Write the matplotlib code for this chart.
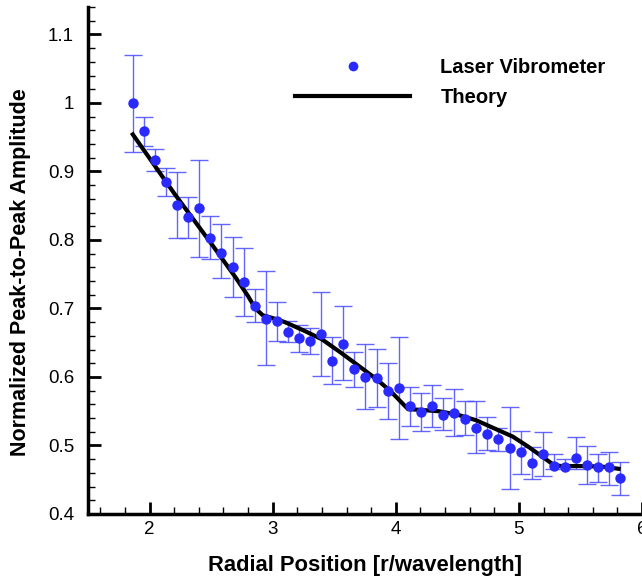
import matplotlib
matplotlib.use("Agg")
import matplotlib.pyplot as plt
from matplotlib.ticker import MultipleLocator, FuncFormatter
from matplotlib.lines import Line2D

plt.rcParams['font.family'] = ['Liberation Sans', 'DejaVu Sans']

# Measured data (laser vibrometer)
x_meas = [1.864, 1.954, 2.044, 2.134, 2.224, 2.314, 2.404, 2.494, 2.584, 2.674,
          2.764, 2.854, 2.944, 3.034, 3.124, 3.214, 3.304, 3.394, 3.484, 3.574,
          3.664, 3.754, 3.844, 3.934, 4.024, 4.114, 4.204, 4.294, 4.384, 4.474,
          4.564, 4.654, 4.744, 4.834, 4.924, 5.014, 5.104, 5.194, 5.284, 5.374,
          5.464, 5.554, 5.644, 5.734, 5.824]
y_meas = [1.000, 0.959, 0.917, 0.884, 0.851, 0.833, 0.846, 0.803, 0.781, 0.760,
          0.738, 0.704, 0.685, 0.682, 0.666, 0.657, 0.652, 0.663, 0.623, 0.648,
          0.611, 0.600, 0.599, 0.580, 0.584, 0.557, 0.549, 0.558, 0.545, 0.548,
          0.539, 0.525, 0.517, 0.510, 0.496, 0.490, 0.474, 0.487, 0.470, 0.469,
          0.482, 0.471, 0.469, 0.468, 0.452]
y_upper = [1.070, 0.979, 0.933, 0.905, 0.899, 0.862, 0.917, 0.835, 0.824, 0.805,
           0.788, 0.728, 0.755, 0.709, 0.681, 0.676, 0.672, 0.724, 0.658, 0.703,
           0.636, 0.648, 0.641, 0.620, 0.659, 0.585, 0.576, 0.588, 0.569, 0.582,
           0.565, 0.565, 0.542, 0.526, 0.556, 0.521, 0.498, 0.519, 0.488, 0.481,
           0.512, 0.499, 0.488, 0.491, 0.476]
y_lower = [0.929, 0.937, 0.900, 0.864, 0.803, 0.803, 0.775, 0.772, 0.745, 0.716,
           0.689, 0.680, 0.617, 0.653, 0.651, 0.637, 0.633, 0.602, 0.590, 0.595,
           0.585, 0.553, 0.556, 0.538, 0.509, 0.528, 0.521, 0.527, 0.522, 0.514,
           0.515, 0.489, 0.493, 0.492, 0.436, 0.459, 0.451, 0.455, 0.465, 0.468,
           0.465, 0.444, 0.446, 0.443, 0.428]

# Theory curve
x_theory = [1.864, 2.2, 2.5, 2.7, 2.8, 2.86, 2.92, 3.0, 3.1, 3.25, 3.4, 3.55,
            3.7, 3.85, 3.97, 4.1, 4.2, 4.35, 4.5, 4.65, 4.8, 4.95, 5.07, 5.18,
            5.28, 5.34, 5.55, 5.68, 5.81]
y_theory = [0.954, 0.868, 0.795, 0.745, 0.718, 0.700, 0.690, 0.686, 0.680, 0.668,
            0.655, 0.636, 0.616, 0.596, 0.577, 0.553, 0.552, 0.550, 0.545, 0.537,
            0.525, 0.513, 0.499, 0.485, 0.472, 0.470, 0.470, 0.469, 0.466]

x_ticks = [2, 3, 4, 5, 6]
y_ticks = [0.4, 0.5, 0.6, 0.7, 0.8, 0.9, 1.0, 1.1]

fig = plt.figure(figsize=(6.42, 5.79), dpi=100)
ax = fig.add_axes([88/642, 1 - 514/579, 1 - 88/642, (514 - 7)/579])

yerr = [[m - l for m, l in zip(y_meas, y_lower)], [u - m for u, m in zip(y_upper, y_meas)]]
ax.errorbar(x_meas, y_meas, yerr=yerr, fmt='none', ecolor='#4a4aff', elinewidth=1.0,
            capsize=6.5, capthick=1.0, alpha=0.85, zorder=2)
ax.plot(x_meas, y_meas, 'o', color='#2a2aff', markersize=7.5, markeredgewidth=0, zorder=4)
ax.plot(x_theory, y_theory, '-', color='black', linewidth=3, zorder=3)

ax.set_xlim(1.5, 6.0)
ax.set_ylim(0.4, 1.14)
ax.set_xticks(x_ticks)
ax.set_yticks(y_ticks)
ax.xaxis.set_minor_locator(MultipleLocator(0.2))
ax.yaxis.set_minor_locator(MultipleLocator(0.02))
ax.yaxis.set_major_formatter(FuncFormatter(lambda v, p: ('%g' % round(v, 2))))
ax.tick_params(which='major', direction='in', length=9, width=2, labelsize=13.5, pad=10)
ax.tick_params(which='minor', direction='in', length=5, width=1)
ax.tick_params(axis='x', which='major', pad=5)
for s in ['top', 'right']:
    ax.spines[s].set_visible(False)
for s in ['left', 'bottom']:
    ax.spines[s].set_linewidth(2.5)

ax.set_xlabel('Radial Position [r/wavelength]', fontsize=15.8, fontweight='bold', labelpad=12)
ax.set_ylabel('Normalized Peak-to-Peak Amplitude', fontsize=15.5, fontweight='bold')
ax.yaxis.set_label_coords(-0.103, 0.477)

handles = [Line2D([], [], marker='o', linestyle='none', color='#2a2aff', markersize=7, markeredgewidth=0),
           Line2D([], [], color='black', linewidth=3)]
leg = ax.legend(handles, ['Laser Vibrometer', 'Theory'], loc='upper left',
                bbox_to_anchor=(0.36, 0.915), frameon=False, handlelength=5.7,
                handletextpad=1.5, labelspacing=0.55, borderaxespad=0,
                prop={'weight': 'bold', 'size': 14.5})

fig.savefig('out.png', dpi=100)
